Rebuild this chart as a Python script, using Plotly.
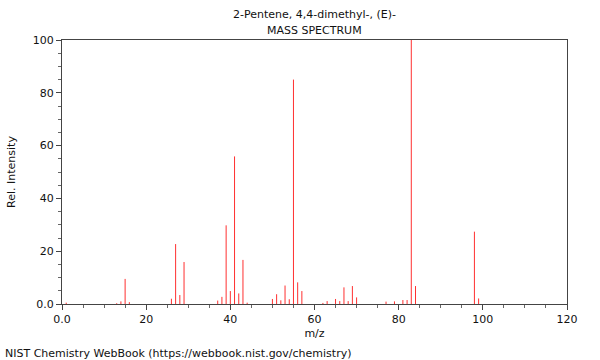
import plotly.graph_objects as go

mz = [1, 13, 14, 15, 16, 26, 27, 28, 29, 37, 38, 39, 40, 41, 42, 43, 44,
      50, 51, 52, 53, 54, 55, 56, 57, 62, 63, 65, 66, 67, 68, 69, 70,
      77, 79, 81, 82, 83, 84, 98, 99]
intensity = [0.5, 0.3, 1.0, 9.5, 0.7, 2.0, 22.7, 3.4, 15.9, 1.3, 2.7, 29.8, 4.9, 55.9, 4.0, 16.7, 0.5,
             1.9, 3.7, 1.4, 7.0, 1.8, 85.0, 8.2, 4.9, 0.4, 1.1, 1.9, 1.1, 6.3, 1.1, 6.8, 2.5,
             0.9, 1.0, 1.5, 1.5, 100.0, 6.8, 27.4, 2.1]

x_ticks = [0, 20, 40, 60, 80, 100, 120]
x_labels = ["0.0", "20", "40", "60", "80", "100", "120"]
y_ticks = [0, 20, 40, 60, 80, 100]
y_labels = ["0.0", "20", "40", "60", "80", "100"]

xs, ys = [], []
for m, v in zip(mz, intensity):
    xs += [m, m, None]
    ys += [0, v, None]

font = "DejaVu Sans, sans-serif"
fig = go.Figure(go.Scatter(x=xs, y=ys, mode="lines",
                           line=dict(color="#ff3030", width=1),
                           hoverinfo="skip", showlegend=False))

axis_common = dict(showline=True, linecolor="#444", linewidth=1, mirror=True,
                   ticks="outside", ticklen=5, tickcolor="#444",
                   showgrid=False, zeroline=False,
                   tickfont=dict(family=font, size=11, color="#111"))

fig.update_xaxes(range=[0, 120], tickvals=x_ticks, ticktext=x_labels,
                 minor=dict(dtick=5, ticks="outside", ticklen=3, tickcolor="#666"),
                 title=dict(text="m/z", font=dict(family=font, size=11, color="#111"), standoff=4),
                 **axis_common)
fig.update_yaxes(range=[0, 100], tickvals=y_ticks, ticktext=y_labels,
                 minor=dict(dtick=5, ticks="outside", ticklen=3, tickcolor="#666"),
                 title=dict(text="Rel. Intensity", font=dict(family=font, size=11, color="#111"), standoff=14),
                 **axis_common)

fig.update_layout(
    width=600, height=360,
    margin=dict(l=62, r=33, t=40, b=56, autoexpand=False),
    paper_bgcolor="white", plot_bgcolor="white",
    annotations=[
        dict(text="2-Pentene, 4,4-dimethyl-, (E)-", x=0.5, y=1, xref="paper", yref="paper",
             yanchor="middle", yshift=26,
             showarrow=False, font=dict(family=font, size=11, color="#111")),
        dict(text="MASS SPECTRUM", x=0.5, y=1, xref="paper", yref="paper",
             yanchor="middle", yshift=10,
             showarrow=False, font=dict(family=font, size=11, color="#111")),
        dict(text="NIST Chemistry WebBook (https://webbook.nist.gov/chemistry)",
             x=0, y=0, xref="paper", yref="paper", xanchor="left", yanchor="middle",
             xshift=-59, yshift=-49, showarrow=False,
             font=dict(family=font, size=11, color="#111")),
    ],
)

fig.write_html("out.html", config={"displayModeBar": False},
               post_script="document.body.style.margin='0';")
